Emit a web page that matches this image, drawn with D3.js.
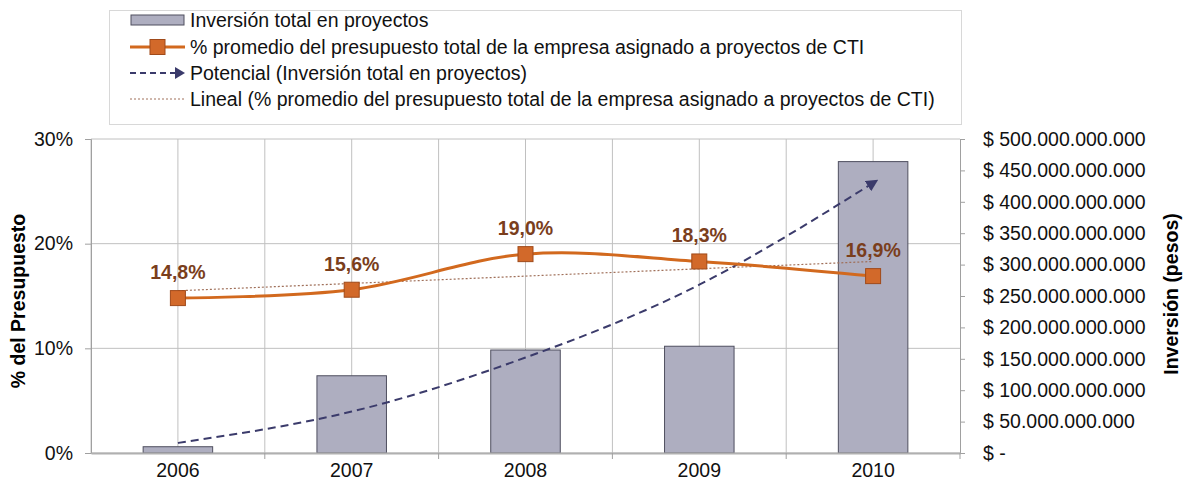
<!DOCTYPE html>
<html><head><meta charset="utf-8">
<script src="https://cdn.jsdelivr.net/npm/d3@7"></script>
<style>body{margin:0;background:#fff}svg{font-family:"Liberation Sans",Arial,sans-serif}</style>
</head><body><svg id="c" width="1183" height="485"></svg>
<script>
const years = ["2006","2007","2008","2009","2010"];
const investment = [10e9, 123e9, 164e9, 170e9, 464e9];
const pctBudget = [14.8, 15.6, 19.0, 18.3, 16.9];
const potentialTrend = [16e9, 66e9, 152e9, 268e9, 430e9];
const linearTrend = [15.5, 18.3]; // endpoints 2006 -> 2010
const leftTicks = [0, 10, 20, 30];
const rightTicks = d3.range(0, 500e9 + 1, 50e9);
const legendLabels = ["Inversión total en proyectos",
 "% promedio del presupuesto total de la empresa asignado a proyectos de CTI",
 "Potencial (Inversión total en proyectos)",
 "Lineal (% promedio del presupuesto total de la empresa asignado a proyectos de CTI)"];

const FS = 19.5;
const svg = d3.select("#c");
const L = 91, R = 960, T = 139, B = 453;
const x = d3.scaleBand().domain(years).range([L, R]).padding(0);
const cx = d => x(d) + x.bandwidth() / 2;
const yL = d3.scaleLinear().domain([0, 30]).range([B, T]);
const yR = d3.scaleLinear().domain([0, 500e9]).range([B, T]);
const grid = "#c0c0c0";

// gridlines
const g = svg.append("g");
leftTicks.forEach(t => g.append("line").attr("x1", L).attr("x2", R).attr("y1", yL(t)).attr("y2", yL(t)).attr("stroke", grid));
years.forEach(yr => {
  g.append("line").attr("x1", cx(yr)).attr("x2", cx(yr)).attr("y1", T).attr("y2", B).attr("stroke", grid);
  g.append("line").attr("x1", x(yr)).attr("x2", x(yr)).attr("y1", T).attr("y2", B).attr("stroke", grid);
});

// bars
const bw = x.bandwidth() * 0.4;
svg.append("g").selectAll("rect").data(years).join("rect")
  .attr("x", d => cx(d) - bw / 2).attr("width", bw)
  .attr("y", (d, i) => yR(investment[i])).attr("height", (d, i) => B - yR(investment[i]))
  .attr("fill", "#aeaec0").attr("stroke", "#4f4f5f").attr("stroke-width", 1);

// axes
const axL = svg.append("g").attr("transform", `translate(${L},0)`)
  .call(d3.axisLeft(yL).tickValues(leftTicks).tickFormat(d => d + "%").tickSize(6).tickPadding(12));
const axR = svg.append("g").attr("transform", `translate(${R},0)`)
  .call(d3.axisRight(yR).tickValues(rightTicks).tickSize(5).tickPadding(18)
    .tickFormat(d => d === 0 ? "$ -" : "$ " + d3.format(",")(d).replace(/,/g, ".")));
const axB = svg.append("g").attr("transform", `translate(0,${B})`)
  .call(d3.axisBottom(x).tickSize(0).tickPadding(10));
[axL, axR, axB].forEach(a => {
  a.selectAll("path").attr("stroke", "#a0a0a0");
  a.selectAll("line").attr("stroke", "#a0a0a0");
  a.selectAll("text").attr("font-size", FS).attr("fill", "#111").attr("font-family", "Liberation Sans, Arial, sans-serif");
});
axR.selectAll("text").attr("text-anchor", "start").attr("dx", 0);
axB.select("path").attr("stroke", "#b0b0b0").attr("stroke-width", 2);
// boundary ticks below x axis
years.concat(["end"]).forEach((yr, i) => {
  if (i === 0) return;
  const xx = yr === "end" ? R : x(yr);
  svg.append("line").attr("x1", xx).attr("x2", xx).attr("y1", B).attr("y2", B + 6).attr("stroke", "#a0a0a0");
});

// axis titles
svg.append("text").attr("transform", `translate(25,${(T + B) / 2 + 5}) rotate(-90)`)
  .attr("text-anchor", "middle").attr("font-size", FS).attr("font-weight", "bold").text("% del Presupuesto");
svg.append("text").attr("transform", `translate(1178,${(T + B) / 2 - 2}) rotate(-90)`)
  .attr("text-anchor", "middle").attr("font-size", FS).attr("font-weight", "bold").text("Inversión (pesos)");

// linear trend
svg.append("line").attr("x1", cx(years[0])).attr("x2", cx(years[4]))
  .attr("y1", yL(linearTrend[0])).attr("y2", yL(linearTrend[1]))
  .attr("stroke", "#a0705a").attr("stroke-width", 1.2).attr("stroke-dasharray", "2,2");

// potential trend
svg.append("defs").append("marker").attr("id", "arr").attr("viewBox", "0 0 10 10")
  .attr("refX", 5).attr("refY", 5).attr("markerWidth", 6).attr("markerHeight", 6)
  .attr("orient", "auto").attr("markerUnits", "strokeWidth")
  .append("path").attr("d", "M0,0 L10,5 L0,10 z").attr("fill", "#3b3b6b");
svg.append("path").datum(years)
  .attr("d", d3.line().x(d => cx(d)).y((d, i) => yR(potentialTrend[i])).curve(d3.curveNatural))
  .attr("fill", "none").attr("stroke", "#3b3b6b").attr("stroke-width", 2)
  .attr("stroke-dasharray", "8,5").attr("marker-end", "url(#arr)");

// main line
svg.append("path").datum(years)
  .attr("d", d3.line().x(d => cx(d)).y((d, i) => yL(pctBudget[i])).curve(d3.curveCatmullRom.alpha(0.5)))
  .attr("fill", "none").attr("stroke", "#d2691e").attr("stroke-width", 3);
svg.append("g").selectAll("rect").data(years).join("rect")
  .attr("x", d => cx(d) - 7.5).attr("y", (d, i) => yL(pctBudget[i]) - 7.5)
  .attr("width", 15).attr("height", 15).attr("fill", "#d2692a").attr("stroke", "#a04a1a").attr("stroke-width", 1);
svg.append("g").selectAll("text").data(years).join("text")
  .attr("x", d => cx(d)).attr("y", (d, i) => yL(pctBudget[i]) - 19)
  .attr("text-anchor", "middle").attr("font-size", FS).attr("font-weight", "bold").attr("fill", "#7a3e1c")
  .text((d, i) => d3.format(".1f")(pctBudget[i]).replace(".", ",") + "%");

// legend
const lg = svg.append("g");
lg.append("rect").attr("x", 109.5).attr("y", 10.5).attr("width", 852).attr("height", 114)
  .attr("fill", "#fff").attr("stroke", "#d8d8d8");
const rowY = [20, 47, 73, 99];
const sx0 = 130, sx1 = 185, tx = 190;
lg.append("rect").attr("x", sx0 + 1).attr("y", rowY[0] - 5).attr("width", sx1 - sx0 - 2).attr("height", 10)
  .attr("fill", "#aeaec0").attr("stroke", "#4f4f5f");
lg.append("line").attr("x1", sx0).attr("x2", sx1).attr("y1", rowY[1]).attr("y2", rowY[1]).attr("stroke", "#d2691e").attr("stroke-width", 3);
lg.append("rect").attr("x", (sx0 + sx1) / 2 - 7.5).attr("y", rowY[1] - 7.5).attr("width", 15).attr("height", 15).attr("fill", "#d2692a").attr("stroke", "#a04a1a");
lg.append("line").attr("x1", sx0).attr("x2", sx1 - 9).attr("y1", rowY[2]).attr("y2", rowY[2]).attr("stroke", "#3b3b6b").attr("stroke-width", 2).attr("stroke-dasharray", "6,4");
lg.append("path").attr("d", `M${sx1 - 10},${rowY[2] - 6} L${sx1},${rowY[2]} L${sx1 - 10},${rowY[2] + 6} Z`).attr("fill", "#3b3b6b");
lg.append("line").attr("x1", sx0).attr("x2", sx1).attr("y1", rowY[3]).attr("y2", rowY[3]).attr("stroke", "#a0705a").attr("stroke-width", 1).attr("stroke-dasharray", "2,2");
legendLabels.forEach((t, i) => lg.append("text").attr("x", tx).attr("y", rowY[i] + 7).attr("font-size", FS).attr("fill", "#111").text(t));
</script></body></html>
